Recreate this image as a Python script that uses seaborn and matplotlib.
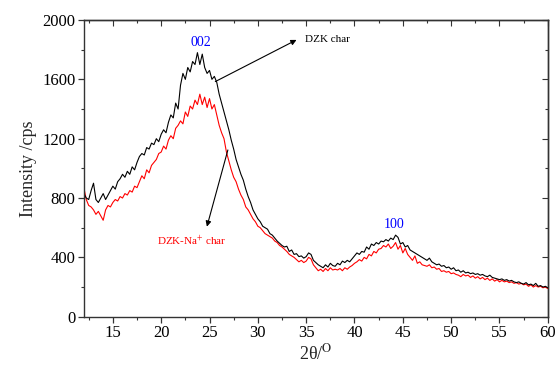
import numpy as np
import pandas as pd
import matplotlib
matplotlib.use("Agg")
import matplotlib.pyplot as plt
from matplotlib.ticker import MultipleLocator
import seaborn as sns

# 2-theta grid (0.25 deg steps from 12 to 60)
two_theta = [12 + 0.25 * i for i in range(193)]

dzk_char = [
    830, 800, 790, 850, 900, 790, 770, 800,      # 12-13.75
    830, 790, 820, 850, 880, 860, 910, 930,      # 14-15.75
    960, 940, 980, 960, 1010, 990, 1040, 1080,   # 16-17.75
    1100, 1090, 1140, 1130, 1170, 1160, 1200, 1180,  # 18-19.75
    1230, 1260, 1240, 1310, 1360, 1340, 1440, 1400,  # 20-21.75
    1560, 1640, 1600, 1680, 1650, 1720, 1700, 1780,  # 22-23.75
    1700, 1770, 1680, 1640, 1660, 1600, 1620, 1580,  # 24-25.75
    1500, 1440, 1380, 1320, 1260, 1190, 1130, 1060,  # 26-27.75
    1010, 960, 920, 860, 810, 770, 720, 690,         # 28-29.75
    660, 640, 610, 600, 590, 560, 550, 530,          # 30-31.75
    510, 495, 480, 470, 475, 440, 450, 420,          # 32-33.75
    425, 405, 410, 395, 405, 430, 420, 380,          # 34-35.75
    365, 350, 340, 330, 350, 335, 360, 345,          # 36-37.75
    340, 360, 350, 375, 365, 380, 370, 390,          # 38-39.75
    410, 430, 420, 440, 435, 470, 455, 490,          # 40-41.75
    480, 500, 490, 510, 505, 520, 510, 530,          # 42-43.75
    520, 550, 535, 490, 500, 470, 480, 450,          # 44-45.75
    440, 430, 420, 410, 400, 390, 380, 395,          # 46-47.75
    370, 360, 350, 355, 340, 345, 330, 335,          # 48-49.75
    320, 330, 310, 315, 300, 310, 295, 300,          # 50-51.75
    290, 295, 285, 290, 280, 285, 275, 270,          # 52-53.75
    280, 265, 260, 255, 250, 255, 245, 250,          # 54-55.75
    240, 245, 235, 230, 235, 225, 220, 230,          # 56-57.75
    215, 220, 210, 225, 205, 210, 200, 205,          # 58-59.75
    195,                                             # 60
]

dzk_na_char = [
    870, 790, 750, 740, 720, 690, 710, 680,          # 12-13.75
    650, 720, 750, 740, 770, 790, 780, 810,          # 14-15.75
    800, 830, 820, 850, 840, 880, 870, 910,          # 16-17.75
    950, 930, 990, 970, 1020, 1040, 1060, 1100,      # 18-19.75
    1110, 1150, 1130, 1190, 1220, 1200, 1270, 1290,  # 20-21.75
    1320, 1300, 1380, 1350, 1420, 1400, 1460, 1430,  # 22-23.75
    1500, 1430, 1480, 1410, 1470, 1400, 1430, 1360,  # 24-25.75
    1290, 1240, 1200, 1110, 1050, 990, 940, 910,     # 26-27.75
    860, 820, 790, 740, 720, 690, 660, 640,          # 28-29.75
    610, 600, 580, 560, 550, 540, 530, 510,          # 30-31.75
    500, 480, 470, 455, 440, 420, 410, 400,          # 32-33.75
    385, 370, 380, 365, 375, 400, 390, 350,          # 34-35.75
    330, 310, 320, 305, 325, 310, 330, 315,          # 36-37.75
    320, 315, 325, 310, 330, 320, 335, 345,          # 38-39.75
    360, 370, 385, 375, 400, 390, 420, 410,          # 40-41.75
    440, 430, 455, 460, 480, 470, 490, 460,          # 42-43.75
    475, 500, 455, 480, 430, 460, 420, 400,          # 44-45.75
    380, 410, 360, 370, 350, 345, 340, 350,          # 46-47.75
    330, 335, 320, 325, 305, 310, 300, 305,          # 48-49.75
    290, 295, 285, 280, 270, 285, 275, 280,          # 50-51.75
    265, 275, 260, 270, 255, 265, 250, 260,          # 52-53.75
    245, 255, 240, 250, 235, 245, 235, 240,          # 54-55.75
    230, 235, 225, 230, 220, 225, 215, 220,          # 56-57.75
    205, 215, 200, 210, 200, 205, 195, 200,          # 58-59.75
    190,                                             # 60
]

series_names = ["DZK char", "DZK-Na$^{+}$ char"]
series_colors = ["black", "red"]
x_ticks = [15, 20, 25, 30, 35, 40, 45, 50, 55, 60]
y_ticks = [0, 400, 800, 1200, 1600, 2000]

df = pd.DataFrame({
    "two_theta": two_theta * 2,
    "intensity": dzk_char + dzk_na_char,
    "sample": [series_names[0]] * len(two_theta) + [series_names[1]] * len(two_theta),
})

sns.set_style("ticks")
plt.rcParams["font.family"] = ["Liberation Serif", "DejaVu Serif"]
plt.rcParams["mathtext.fontset"] = "stix"

fig = plt.figure(figsize=(5.59, 3.67), dpi=100)
ax = fig.add_axes([0.150, 0.137, 0.830, 0.8085])

sns.lineplot(data=df, x="two_theta", y="intensity", hue="sample",
             hue_order=series_names[::-1], palette=dict(zip(series_names, series_colors)),
             linewidth=0.8, legend=False, ax=ax, estimator=None, sort=False)

ax.set_xlim(12, 60)
ax.set_ylim(0, 2000)
ax.set_xticks(x_ticks)
ax.set_yticks(y_ticks)
ax.xaxis.set_minor_locator(MultipleLocator(2.5))
ax.yaxis.set_minor_locator(MultipleLocator(200))
ax.tick_params(axis="both", which="major", direction="out", length=4, width=0.9,
               labelsize=12, color="#333333", labelcolor="black", pad=2)
ax.tick_params(axis="both", which="minor", direction="out", length=2.5, width=0.8, color="#333333")

for s in ax.spines.values():
    s.set_visible(True)
    s.set_linewidth(1.0)
    s.set_color("#333333")

# inward ticks on top and right without labels
top = ax.secondary_xaxis("top")
top.set_xticks(x_ticks)
top.xaxis.set_minor_locator(MultipleLocator(2.5))
top.tick_params(which="major", direction="in", length=4, width=0.8, labeltop=False, color="#333333")
top.tick_params(which="minor", direction="in", length=2.5, width=0.8, color="#333333")
top.spines["top"].set_linewidth(1.0)
top.spines["top"].set_color("#333333")
right = ax.secondary_yaxis("right")
right.set_yticks(y_ticks)
right.yaxis.set_minor_locator(MultipleLocator(200))
right.tick_params(which="major", direction="in", length=4, width=0.8, labelright=False, color="#333333")
right.tick_params(which="minor", direction="in", length=2.5, width=0.8, color="#333333")
right.spines["right"].set_linewidth(1.0)
right.spines["right"].set_color("#333333")

ax.set_xlabel("2θ/$^{\\mathrm{O}}$", fontsize=13, labelpad=2)
ax.set_ylabel("Intensity /cps", fontsize=13, labelpad=4)

# peak labels
ax.text(24.1, 1850, "002", color="blue", fontsize=10, ha="center", va="center")
ax.text(44.1, 620, "100", color="blue", fontsize=10, ha="center", va="center")

# sample annotations
ax.annotate("", xy=(34.0, 1866), xytext=(25.6, 1585),
            arrowprops=dict(arrowstyle="-|>", color="black", lw=0.8, mutation_scale=8,
                            shrinkA=0, shrinkB=0))
ax.text(34.9, 1866, "DZK char", fontsize=8, color="black", ha="left", va="center")
ax.annotate("", xy=(24.73, 607), xytext=(26.9, 1124),
            arrowprops=dict(arrowstyle="-|>", color="black", lw=0.8, mutation_scale=8,
                            shrinkA=0, shrinkB=0))
ax.text(19.6, 512, "DZK-Na$^{+}$ char", fontsize=8, color="red", ha="left", va="center")

fig.savefig("out.png", dpi=100)
